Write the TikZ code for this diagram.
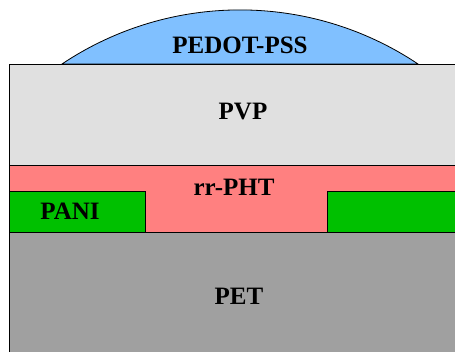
\documentclass[tikz,border=0pt]{standalone}
\usepackage{fontspec}
\setmainfont{Liberation Serif}
\usetikzlibrary{positioning}

\definecolor{pedotblue}{RGB}{128,192,255}
\definecolor{pvpgray}{RGB}{224,224,224}
\definecolor{phtpink}{RGB}{255,128,128}
\definecolor{panigreen}{RGB}{0,192,0}
\definecolor{petgray}{RGB}{160,160,160}

\tikzset{
  layer/.style={draw=black,line width=0.8pt},
  lbl/.style={font=\fontsize{25}{29}\selectfont\bfseries,text=black,inner sep=0pt}
}

\begin{document}
\begin{tikzpicture}[x=1pt,y=1pt]
\useasboundingbox (0,0) rectangle (455,352);
\clip (0,0) rectangle (455,352);
% substrate and semiconductor
\draw[fill=petgray,layer] (9.5,-5) rectangle (470,120);
\draw[fill=phtpink,layer] (9.5,120) rectangle (470,187);
% electrodes
\draw[fill=panigreen,layer] (9.5,120) rectangle (145,160.5);
\draw[fill=panigreen,layer] (327,120) rectangle (470,160.5);
% dielectric
\draw[fill=pvpgray,layer] (9.5,187) rectangle (470,288);
% gate drop
\draw[fill=pedotblue,layer] (62,288) arc[start angle=123.8,end angle=56.2,radius=320] -- cycle;

\node[lbl] (pedot) at (240,307) {PEDOT-PSS};
\node[lbl] (pvp) at (243,240) {PVP};
\node[lbl] (pht) at (234,165) {rr-PHT};
\node[lbl] (pani) at (70,141) {PANI};
\node[lbl] (pet) at (239,56) {PET};
\end{tikzpicture}
\end{document}
